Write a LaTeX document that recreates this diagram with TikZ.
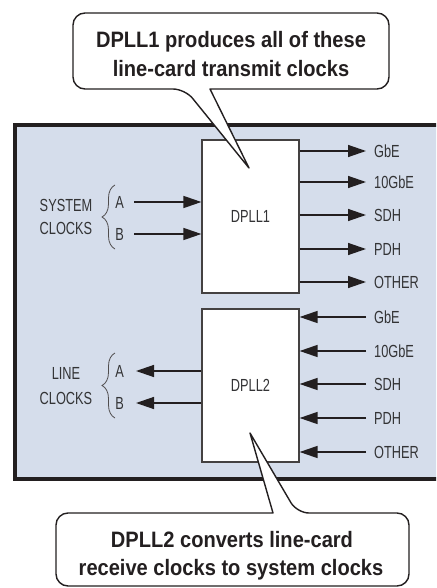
\documentclass[tikz,border=0pt]{standalone}
\usepackage{fontspec}
\setmainfont{Liberation Sans}
\newfontfamily\labelfont[FakeStretch=0.73]{Liberation Sans}
\newfontfamily\calloutfont[FakeStretch=0.9]{Liberation Sans Bold}
\usetikzlibrary{arrows.meta,decorations.pathreplacing}
\definecolor{panel}{HTML}{D5DDEB}
\definecolor{ink}{HTML}{231F20}
\definecolor{labelink}{HTML}{333335}

\begin{document}
\begin{tikzpicture}[x=1pt,y=-1pt,
  lbl/.style={font=\labelfont\fontsize{17.5}{20}\selectfont, text=labelink,
    text height=12.5pt, text depth=0pt, inner ysep=0pt},
  blk/.style={draw=ink!85, fill=white, line width=1.2pt, minimum width=97pt,
    minimum height=153pt, inner sep=0pt, lbl},
  arr/.style={draw=ink, line width=1.4pt, -{Triangle[length=18pt,width=12pt]}},
  clk/.style={draw=ink!80, line width=0.8pt, decorate,
    decoration={brace,amplitude=13pt}},
  callout/.style={draw=ink, line width=1.4pt, fill=white, line join=round},
  calltext/.style={font=\calloutfont\fontsize{22.3}{26}\selectfont, text=ink,
    inner sep=0pt, anchor=base}]

\clip (0,0) rectangle (436,588);

% shaded board
\fill[panel] (14.7,124.7) rectangle (445,479);
\draw[ink, line width=4pt] (445,124.7) -- (14.7,124.7) -- (14.7,479) -- (445,479);

% the two DPLLs
\node[blk] (d1) at (250.5,216.5) {DPLL1};
\node[blk] (d2) at (250.5,385.5) {DPLL2};

% transmit clocks generated by DPLL1
\foreach \t/\y/\n in {GbE/151/1,10GbE/182/2,SDH/215/3,PDH/249/4,OTHER/282/5}{
  \node[lbl, anchor=west, inner xsep=8pt] (tx\n) at (366,\y) {\t};
  \draw[arr] (d1.east |- tx\n.west) -- (tx\n.west);
}

% receive clocks into DPLL2
\foreach \t/\y/\n in {GbE/317/1,10GbE/351/2,SDH/384/3,PDH/418/4,OTHER/452/5}{
  \node[lbl, anchor=west, inner xsep=8pt] (rx\n) at (366,\y) {\t};
  \draw[arr] (rx\n.west) -- (d2.east |- rx\n.west);
}

% system clock references
\node[lbl] (sys1) at (66,205) {SYSTEM};
\node[lbl] (sys2) at (66,228.5) {CLOCKS};
\node[lbl, anchor=east, inner xsep=10pt] (sa) at (134,202) {A};
\node[lbl, anchor=east, inner xsep=10pt] (sb) at (134,234) {B};
\draw[arr] (sa.east) -- (d1.west |- sa.east);
\draw[arr] (sb.east) -- (d1.west |- sb.east);
\draw[clk] (115,249) -- (115,185);

% line clock outputs
\node[lbl] (line1) at (66,373.5) {LINE};
\node[lbl] (line2) at (66,398.5) {CLOCKS};
\node[lbl, anchor=east, inner xsep=12pt] (la) at (136,371) {A};
\node[lbl, anchor=east, inner xsep=12pt] (lb) at (136,403) {B};
\draw[arr] (d2.west |- la.east) -- (la.east);
\draw[arr] (d2.west |- lb.east) -- (lb.east);
\draw[clk] (115,418) -- (115,353);

% callout for DPLL1
\path[callout] (210,89) [rounded corners=12pt] -- (389,89) -- (389,13) -- (73,13)
  -- (73,89) -- (185,89) [sharp corners] -- (249,168) -- cycle;
\node[calltext] (c1a) at (231,48) {DPLL1 produces all of these};
\node[calltext] (c1b) at (231,77) {line-card transmit clocks};

% callout for DPLL2
\path[callout] (273,513) [rounded corners=12pt] -- (56,513) -- (56,586) -- (409,586)
  -- (409,513) -- (297,513) [sharp corners] -- (250,433) -- cycle;
\node[calltext] (c2a) at (232,547) {DPLL2 converts line-card};
\node[calltext] (c2b) at (231,575) {receive clocks to system clocks};
\end{tikzpicture}
\end{document}
